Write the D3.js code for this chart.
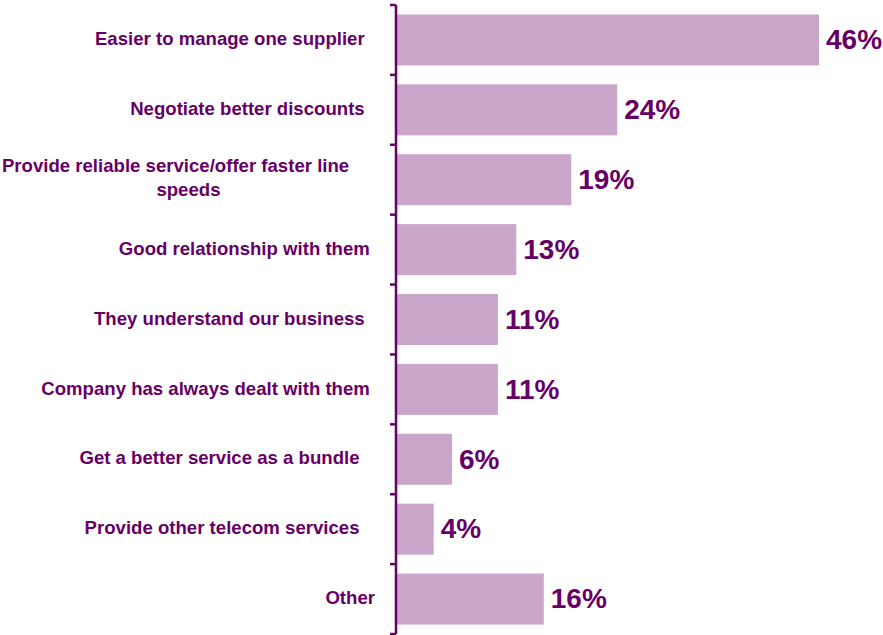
<!DOCTYPE html>
<html>
<head>
<meta charset="utf-8">
<script src="https://cdn.jsdelivr.net/npm/d3@7"></script>
<style>
  html, body { margin: 0; padding: 0; background: #fff; }
  svg { display: block; }
  text { font-family: "Liberation Sans", Arial, sans-serif; font-weight: bold; fill: #660066; white-space: pre; }
</style>
</head>
<body>
<svg id="chart" width="883" height="635"></svg>
<script>
// Reasons for using a single supplier (% of respondents)
// Trailing spaces are part of the category text, as typed in the source sheet.
const categories = [
  "Easier to manage one supplier\u00a0\u00a0",
  "Negotiate better discounts\u00a0\u00a0",
  "Provide reliable service/offer faster line\u00a0\u00a0\u00a0\u00a0\u00a0|speeds",
  "Good relationship with them\u00a0",
  "They understand our business\u00a0\u00a0",
  "Company has always dealt with them\u00a0",
  "Get a better service as a bundle\u00a0\u00a0\u00a0",
  "Provide other telecom services\u00a0\u00a0\u00a0",
  "Other"
];
const values = [46, 24, 19, 13, 11, 11, 6, 4, 16];
const valueLabels = ["46%", "24%", "19%", "13%", "11%", "11%", "6%", "4%", "16%"];

const axisX = 396;
const plotTop = 5, plotBottom = 634;
const purple = "#660066";
const barColor = "#CBA6CB";

const svg = d3.select("#chart");

const y = d3.scaleBand()
  .domain(d3.range(categories.length))
  .range([plotTop, plotBottom])
  .paddingInner(0.27)
  .paddingOuter(0.135);

const x = d3.scaleLinear()
  .domain([0, 46])
  .range([axisX + 1, 819]);

// Bars
svg.append("g")
  .selectAll("rect")
  .data(values)
  .join("rect")
  .attr("x", x(0))
  .attr("y", (d, i) => y(i))
  .attr("width", d => x(d) - x(0))
  .attr("height", y.bandwidth())
  .attr("fill", barColor);

// Value labels
svg.append("g")
  .selectAll("text")
  .data(values)
  .join("text")
  .attr("x", d => x(d) + 7)
  .attr("y", (d, i) => y(i) + y.bandwidth() / 2)
  .attr("dy", "0.33em")
  .style("font-size", "28px")
  .text((d, i) => valueLabels[i]);

// Vertical axis line with tick marks between categories
const step = (plotBottom - plotTop) / categories.length;
const axis = svg.append("g");
axis.append("line")
  .attr("x1", axisX).attr("x2", axisX)
  .attr("y1", plotTop).attr("y2", plotBottom)
  .attr("stroke", purple).attr("stroke-width", 2.5);
axis.selectAll("line.tick")
  .data(d3.range(categories.length + 1))
  .join("line")
  .attr("class", "tick")
  .attr("x1", axisX - 6).attr("x2", axisX)
  .attr("y1", i => plotTop + i * step).attr("y2", i => plotTop + i * step)
  .attr("stroke", purple).attr("stroke-width", 2.5);

// Category labels: right-aligned; wrapped labels are centred on their widest line
const labelRight = 375;
const fontSize = 18.6;
const lineH = 24;
const labels = svg.append("g");
categories.forEach((c, i) => {
  const lines = c.split("|");
  const cy = plotTop + (i + 0.5) * step - (lines.length > 1 ? 2 : 1.5);
  const g = labels.append("g");
  const texts = lines.map((ln, k) => g.append("text")
    .attr("y", cy + (k - (lines.length - 1) / 2) * lineH)
    .attr("dy", "0.36em")
    .style("font-size", fontSize + "px")
    .text(ln));
  const widths = texts.map(t => t.node().getComputedTextLength());
  const maxW = d3.max(widths);
  const centre = labelRight - maxW / 2;
  texts.forEach(t => t.attr("x", centre).attr("text-anchor", "middle"));
});
</script>
</body>
</html>
